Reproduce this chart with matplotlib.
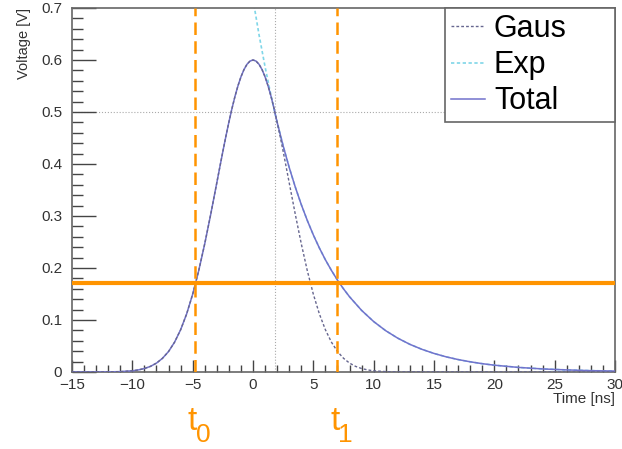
import matplotlib.pyplot as plt
from matplotlib.ticker import MultipleLocator

plt.rcParams['font.family'] = ['Liberation Sans', 'DejaVu Sans']

# Gaussian part (peak 0.6 V at 0 ns)
gaus_t = [-15, -12, -11, -10, -9.5, -9, -8.5, -8, -7.5, -7, -6.5, -6, -5.5, -5, -4.5,
          -4, -3.5, -3, -2.75, -2.5, -2.25, -2, -1.75, -1.5, -1.25, -1, -0.75, -0.5,
          -0.25, 0, 0.25, 0.5, 0.75, 1, 1.25, 1.5, 1.75, 2, 2.25, 2.5, 2.75, 3, 3.5,
          4, 4.5, 5, 5.5, 6, 6.5, 7, 7.5, 8, 8.5, 9, 9.5, 10, 11, 12, 30]
gaus_v = [0.0, 0.0002, 0.0007, 0.0023, 0.0040, 0.0067, 0.0108, 0.0171, 0.0264, 0.0394,
          0.0574, 0.0812, 0.1117, 0.1496, 0.1948, 0.2467, 0.3038, 0.3639, 0.3942,
          0.4240, 0.4529, 0.4804, 0.5061, 0.5295, 0.5501, 0.5676, 0.5815, 0.5917,
          0.5979, 0.6, 0.5979, 0.5917, 0.5815, 0.5676, 0.5501, 0.5295, 0.5061,
          0.4804, 0.4529, 0.4240, 0.3942, 0.3639, 0.3038, 0.2467, 0.1948, 0.1496,
          0.1117, 0.0812, 0.0574, 0.0394, 0.0264, 0.0171, 0.0108, 0.0067, 0.0040,
          0.0023, 0.0007, 0.0002, 0.0]

# exponential tail
exp_t = [0, 0.5, 1, 1.5, 1.8, 2, 2.5, 3, 3.5, 4, 4.5, 5, 5.5, 6, 6.5, 7, 7.5, 8,
         9, 10, 11, 12, 13, 14, 15, 16, 17, 18, 19, 20, 22, 24, 26, 28, 30]
exp_v = [0.7167, 0.6484, 0.5868, 0.5309, 0.5, 0.4804, 0.4347, 0.3933, 0.3559,
         0.3220, 0.2914, 0.2636, 0.2385, 0.2158, 0.1953, 0.1767, 0.1599, 0.1447,
         0.1185, 0.0970, 0.0794, 0.0650, 0.0532, 0.0436, 0.0357, 0.0292, 0.0239,
         0.0196, 0.0160, 0.0131, 0.0088, 0.0059, 0.0040, 0.0026, 0.0018]

t_switch = 1.8   # where total goes from gaus to exp
v_half = 0.5
threshold = 0.172
t0 = -4.8
t1 = 7.0

x_ticks = [-15, -10, -5, 0, 5, 10, 15, 20, 25, 30]
y_ticks = [0, 0.1, 0.2, 0.3, 0.4, 0.5, 0.6, 0.7]
y_ticklabels = ['0', '0.1', '0.2', '0.3', '0.4', '0.5', '0.6', '0.7']

# total = gaus before switch, exp after
tot_t = [t for t in gaus_t if t < t_switch] + [t for t in exp_t if t >= t_switch]
tot_v = [v for t, v in zip(gaus_t, gaus_v) if t < t_switch] + \
        [v for t, v in zip(exp_t, exp_v) if t >= t_switch]

fig = plt.figure(figsize=(6.22, 4.49), dpi=100)
ax = fig.add_axes([0.1158, 0.1715, 0.8729, 0.8107])

orange = '#ff9400'

ax.axhline(v_half, color='#aaaaaa', lw=0.8, ls=':', zorder=1)
ax.axvline(t_switch, color='#aaaaaa', lw=0.8, ls=':', zorder=1)

ax.plot(exp_t, exp_v, color='#7fd6e8', lw=1.2, ls=(0, (2, 1.5)), label='Exp', zorder=2)
ax.plot(tot_t, tot_v, color='#7272cc', lw=1.1, label='Total', zorder=3)
ax.plot(gaus_t, gaus_v, color='#66668f', lw=1.0, ls=(0, (2, 1.5)), label='Gaus', zorder=4)

ax.axhline(threshold, color=orange, lw=3, zorder=5)
ax.axvline(t0, color=orange, lw=1.8, ls=(0, (5, 2.5)), zorder=5)
ax.axvline(t1, color=orange, lw=1.8, ls=(0, (5, 2.5)), zorder=5)

ax.set_xlim(-15, 30)
ax.set_ylim(0, 0.7)
ax.set_xticks(x_ticks)
ax.set_yticks(y_ticks)
ax.set_yticklabels(y_ticklabels)
ax.xaxis.set_minor_locator(MultipleLocator(1))
ax.yaxis.set_minor_locator(MultipleLocator(0.02))
ax.tick_params(which='both', direction='in', top=False, right=False,
               colors='#444444', labelcolor='#333333', labelsize=11, width=1)
ax.tick_params(axis='y', which='major', length=17, pad=7)
ax.tick_params(axis='y', which='minor', length=8)
ax.tick_params(axis='x', which='major', length=9, pad=4)
ax.tick_params(axis='x', which='minor', length=5)
for s in ax.spines.values():
    s.set_color('#666666')
    s.set_linewidth(1.2)

ax.set_xlabel('Time [ns]', fontsize=11, color='#333333', loc='right', labelpad=0)
ax.set_ylabel('Voltage [V]', fontsize=10.5, color='#333333', loc='top', labelpad=7)

handles, labels = ax.get_legend_handles_labels()
order = [labels.index('Gaus'), labels.index('Exp'), labels.index('Total')]
leg = ax.legend([handles[i] for i in order], [labels[i] for i in order],
                loc='upper right', bbox_to_anchor=(0.687, 0.0, 0.313, 1.0),
                mode='expand', fontsize=22,
                frameon=True, fancybox=False, framealpha=1, edgecolor='#666666',
                borderpad=0.2, labelspacing=0.2, handlelength=1.1, handletextpad=0.3,
                borderaxespad=0)
leg.get_frame().set_linewidth(1.2)
leg.set_zorder(10)

for tx, sub in [(t0, '0'), (t1, '1')]:
    xp = ax.transData.transform((tx, 0))[0] / fig.dpi / 6.22
    fig.text(xp - 0.004, 0.062, 't', color=orange, fontsize=24, ha='center', va='center')
    fig.text(xp + 0.013, 0.031, sub, color=orange, fontsize=19, ha='center', va='center')

fig.savefig('out.png', dpi=100)
